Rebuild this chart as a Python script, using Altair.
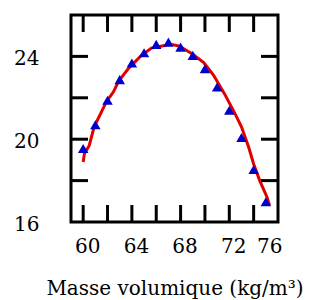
import altair as alt
import pandas as pd

# measured points (triangles)
pt_x = [60, 61, 62, 63, 64, 65, 66, 67, 68, 69, 70, 71, 72, 73, 74, 75]
pt_y = [19.55, 20.7, 21.88, 22.88, 23.68, 24.18, 24.58, 24.69, 24.45, 24.05,
        23.4, 22.52, 21.4, 20.08, 18.54, 16.98]

# fitted curve (red line)
ln_x = [60.0, 60.1, 60.5, 60.9, 61.4, 61.9, 62.5, 62.9, 63.7, 64.7, 65.6, 66.9,
        67.1, 67.9, 69.0, 69.9, 70.7, 71.6, 72.5, 73.0, 73.6, 74.0, 74.5, 75.1, 75.3]
ln_y = [18.9, 19.3, 19.7, 20.6, 21.2, 21.8, 22.3, 22.8, 23.4, 24.0, 24.4, 24.55,
        24.6, 24.5, 24.1, 23.7, 23.1, 22.2, 21.2, 20.6, 19.6, 18.8, 18.0, 17.2, 16.8]

x_ticks = [60, 62, 64, 66, 68, 70, 72, 74]
y_ticks = [18, 20, 22, 24]
x_labels = [60, 64, 68, 72, 76]
y_labels = [16, 20, 24]

W, H = 207, 207
TL = 17
FONT = "DejaVu Serif"

pts = pd.DataFrame({"x": pt_x, "y": pt_y})
line = pd.DataFrame({"x": ln_x, "y": ln_y})
xt = pd.DataFrame({"v": x_ticks})
yt = pd.DataFrame({"v": y_ticks})

xs = alt.Scale(domain=[59, 76], nice=False, zero=False)
ys = alt.Scale(domain=[16, 26], nice=False, zero=False)

xaxis = alt.Axis(values=x_labels, domain=False, ticks=False, tickSize=0, grid=False,
                 labelFont=FONT, labelFontSize=20, labelColor="black",
                 labelBaseline="alphabetic", labelPadding=30, labelOffset=4,
                 title="Masse volumique (kg/m³)", titleFont=FONT, titleFontSize=20,
                 titleFontWeight="normal", titleColor="black",
                 titleBaseline="alphabetic", titleY=72)
yaxis = alt.Axis(values=y_labels, domain=False, ticks=False, tickSize=0, grid=False,
                 labelFont=FONT, labelFontSize=20, labelColor="black",
                 labelBaseline="middle", labelPadding=32, labelOffset=2, title=None)

ln = alt.Chart(line).mark_line(color="#e00000", strokeWidth=3).encode(
    x=alt.X("x:Q", scale=xs, axis=xaxis),
    y=alt.Y("y:Q", scale=ys, axis=yaxis),
)
tri = alt.Chart(pts).mark_point(shape="triangle-up", filled=True, color="#0000cc",
                                size=110, opacity=1).encode(
    x=alt.X("x:Q", scale=xs), y=alt.Y("y:Q", scale=ys))

tick_style = dict(color="black", strokeWidth=3)
xt_top = alt.Chart(xt).mark_rule(**tick_style).encode(
    x=alt.X("v:Q", scale=xs), y=alt.value(0), y2=alt.value(TL))
xt_bot = alt.Chart(xt).mark_rule(**tick_style).encode(
    x=alt.X("v:Q", scale=xs), y=alt.value(H - TL), y2=alt.value(H))
yt_left = alt.Chart(yt).mark_rule(**tick_style).encode(
    y=alt.Y("v:Q", scale=ys), x=alt.value(0), x2=alt.value(TL))
yt_right = alt.Chart(yt).mark_rule(**tick_style).encode(
    y=alt.Y("v:Q", scale=ys), x=alt.value(W - TL), x2=alt.value(W))

chart = alt.layer(ln, xt_top, xt_bot, yt_left, yt_right, tri).properties(
    width=W, height=H,
    background="white",
    autosize=alt.AutoSizeParams(type="none"),
    padding={"left": 63, "top": 7, "right": 29, "bottom": 78},
).configure_view(stroke="black", strokeWidth=3)

chart.save("out.html", embed_options={"renderer": "svg", "actions": False})
